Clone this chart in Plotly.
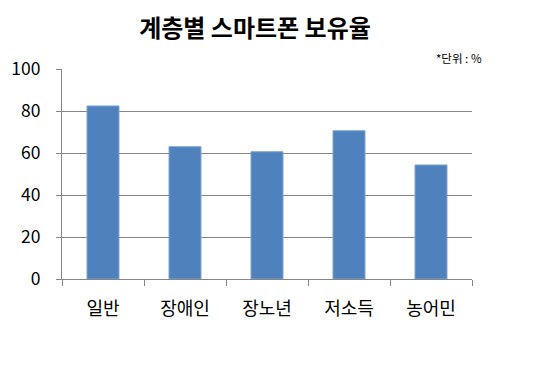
import plotly.graph_objects as go

categories = ["일반", "장애인", "장노년", "저소득", "농어민"]
values = [82.4, 63.0, 60.6, 70.6, 54.3]
y_ticks = [0, 20, 40, 60, 80, 100]

FONT = "Noto Sans CJK KR, Malgun Gothic, sans-serif"
OFF = 8  # page body margin offset

fig = go.Figure()
fig.add_trace(go.Bar(
    x=categories, y=values,
    marker=dict(color="#4F81BD", line=dict(color="#7EA3D0", width=1)),
    width=0.39,
))

fig.update_layout(
    width=540, height=366,
    margin=dict(l=62 - OFF, r=68 + OFF, t=69 - OFF, b=87 + OFF, autoexpand=False),
    paper_bgcolor="white", plot_bgcolor="white",
    showlegend=False,
    font=dict(family=FONT, color="#000000"),
    title=dict(text="<b>계층별 스마트폰 보유율</b>", x=(255 - OFF) / 540, xanchor="center",
               xref="container",
               y=1 - (29 - OFF) / 366, yanchor="middle", automargin=False,
               font=dict(size=24, family=FONT, color="#000")),
    xaxis=dict(
        type="category", tickson="boundaries", ticks="outside", ticklen=6,
        tickcolor="#868686", showline=True, linecolor="#868686", linewidth=1,
        showgrid=False, tickfont=dict(size=18, family=FONT), ticklabelstandoff=13,
        automargin=False,
    ),
    yaxis=dict(
        range=[0, 100], tickvals=y_ticks, ticks="outside", ticklen=5,
        tickcolor="#868686", showline=True, linecolor="#868686", linewidth=1,
        showgrid=True, gridcolor="#868686", gridwidth=1, zeroline=False,
        tickfont=dict(size=17.5, family=FONT), ticklabelstandoff=12,
        automargin=False,
    ),
    annotations=[dict(
        text="*단위 : %", xref="paper", yref="paper", x=1.029, y=1.052,
        xanchor="right", yanchor="middle", showarrow=False,
        font=dict(size=11.5, family=FONT, color="#000"),
    )],
)

fig.write_html("out.html")
